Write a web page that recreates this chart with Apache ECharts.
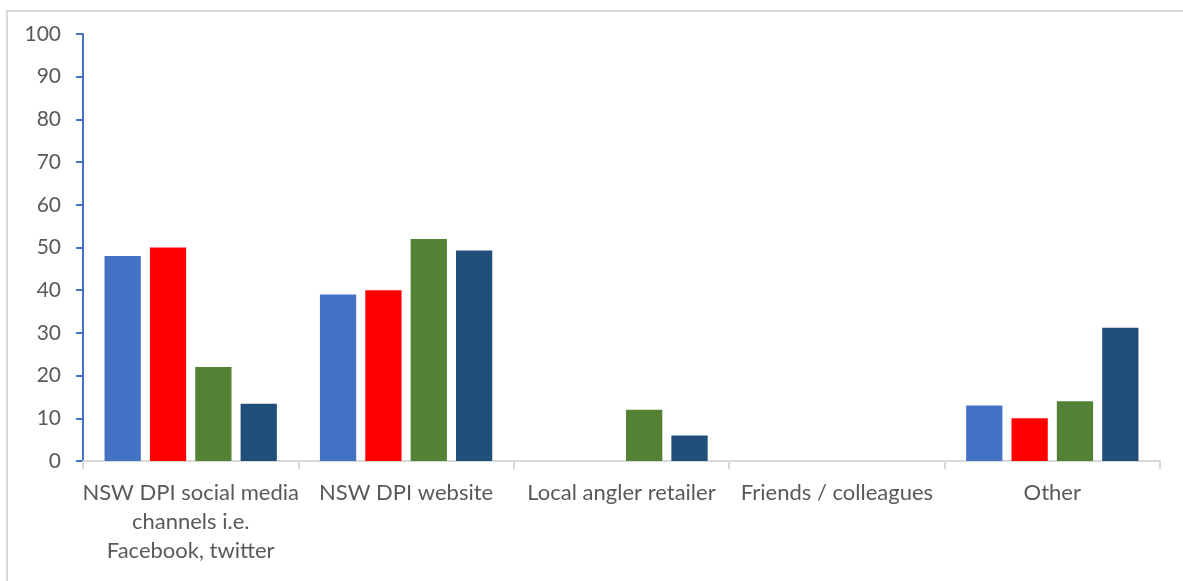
<!DOCTYPE html>
<html>
<head>
<meta charset="utf-8">
<script src="https://cdn.jsdelivr.net/npm/echarts@6/dist/echarts.min.js"></script>
<style>
  html, body { margin: 0; padding: 0; background: #fff; overflow: hidden; }
  #frame { position: absolute; left: 6px; top: 10px; width: 1300px; height: 700px;
           border-left: 2px solid #d9d9d9; border-top: 2px solid #d9d9d9; box-sizing: border-box; }
  #chart { position: absolute; left: 0; top: 0; width: 1183px; height: 581px; }
</style>
</head>
<body>
<div id="frame"></div>
<div id="chart"></div>
<script>
// Information sources, by category
const categories = [
  'NSW DPI social media\nchannels i.e.\nFacebook, twitter',
  'NSW DPI website',
  'Local angler retailer',
  'Friends / colleagues',
  'Other'
];
const seriesA = [48, 39, 0, 0, 13];
const seriesB = [50, 40, 0, 0, 10];
const seriesC = [22, 52, 12, 0, 14];
const seriesD = [13.4, 49.3, 6, 0, 31.2];
const seriesColors = ['#4472C4', '#FF0000', '#548235', '#1F4E79'];
const yTicks = { min: 0, max: 100, interval: 10 };

const font = 'Lato, "Open Sans", sans-serif';
const chart = echarts.init(document.getElementById('chart'), null, { renderer: 'canvas' });

const mk = (data, i) => ({
  type: 'bar',
  data: data,
  barGap: '25%',
  barCategoryGap: '20%',
  itemStyle: { color: seriesColors[i] },
  emphasis: { disabled: true }
});

chart.setOption({
  animation: false,
  grid: { left: 83, right: 23, top: 34, bottom: 120 },
  xAxis: {
    type: 'category',
    data: categories,
    axisLine: { lineStyle: { color: '#d9d9d9', width: 2 } },
    axisTick: { show: true, length: 8, lineStyle: { color: '#d9d9d9', width: 2 } },
    axisLabel: { color: '#595959', fontFamily: font, fontSize: 22, lineHeight: 29, margin: 17, interval: 0 }
  },
  yAxis: {
    type: 'value',
    min: yTicks.min, max: yTicks.max, interval: yTicks.interval,
    axisLine: { show: true, lineStyle: { color: '#4472C4', width: 2 } },
    axisTick: { show: true, length: 7, lineStyle: { color: '#4472C4', width: 2 } },
    splitLine: { show: false },
    axisLabel: { color: '#595959', fontFamily: font, fontSize: 21, margin: 22 }
  },
  series: [seriesA, seriesB, seriesC, seriesD].map(mk)
});
</script>
</body>
</html>
